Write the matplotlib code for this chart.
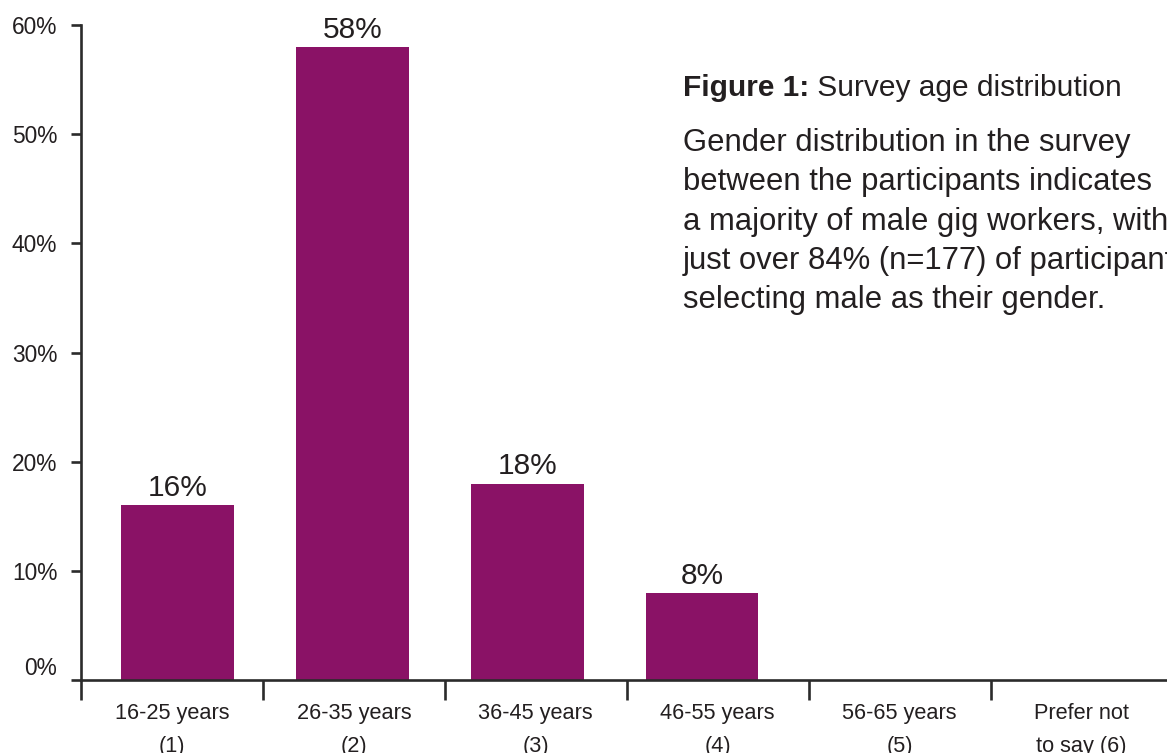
import numpy as np
import matplotlib.pyplot as plt

# age groups and share of respondents (%)
categories = ["16-25 years\n(1)", "26-35 years\n(2)", "36-45 years\n(3)",
              "46-55 years\n(4)", "56-65 years\n(5)", "Prefer not\nto say (6)"]
shares = [16, 58, 18, 8, 0, 0]
y_ticks = [0, 10, 20, 30, 40, 50, 60]

title_bold = "Figure 1:"
title_rest = " Survey age distribution"
body_lines = [
    "Gender distribution in the survey",
    "between the participants indicates",
    "a majority of male gig workers, with",
    "just over 84% (n=177) of participants",
    "selecting male as their gender.",
]

BAR_COLOR = "#8a1266"
TEXT_COLOR = "#231f20"
AXIS_COLOR = "#2b2b2b"
FONT = "Liberation Sans"

W, H = 1167, 753
plt.rcParams["font.family"] = [FONT, "DejaVu Sans"]

fig = plt.figure(figsize=(W / 100, H / 100), dpi=100)
# axes run slightly past the right edge of the figure
ax = fig.add_axes([81 / W, (H - 680) / H, 6 * 181.9 / W, (680 - 25) / H])

# bars sit on a slightly tighter pitch than the category slots
bar_offset, bar_pitch, bar_width = 0.53, 0.9615, 0.62
xpos = bar_offset + bar_pitch * np.arange(len(shares))
bars = ax.bar(xpos, shares, width=bar_width, color=BAR_COLOR, zorder=1)

for x, v in zip(xpos, shares):
    if v > 0:
        ax.annotate(f"{v:.0f}%", xy=(x, v), xytext=(0, 6.5), textcoords="offset points",
                    ha="center", va="baseline", fontsize=21.5, color=TEXT_COLOR)

ax.set_xlim(0, len(categories))
ax.set_ylim(0, 60)

for side in ("top", "right"):
    ax.spines[side].set_visible(False)
for side in ("left", "bottom"):
    ax.spines[side].set_color(AXIS_COLOR)
    ax.spines[side].set_linewidth(1.9)
    ax.spines[side].set_zorder(3)

ax.set_yticks(y_ticks)
ax.set_yticklabels([f"{t}%" for t in y_ticks])
ax.tick_params(axis="y", direction="out", length=7.2, width=1.9, color=AXIS_COLOR,
               labelsize=16.4, labelcolor=TEXT_COLOR, pad=9.9)
ax.get_yticklabels()[0].set_va("bottom")

# category separators as major ticks, names as minor tick labels
ax.set_xticks(np.arange(len(categories) + 1))
ax.set_xticklabels([])
ax.set_xticks(np.arange(len(categories)) + 0.5, minor=True)
ax.set_xticklabels(categories, minor=True, linespacing=1.75)
ax.tick_params(axis="x", which="major", direction="out", length=14.4, width=1.9,
               color=AXIS_COLOR)
ax.tick_params(axis="x", which="minor", length=0, labelsize=15.7,
               labelcolor=TEXT_COLOR, pad=16.5)

# caption block
t1 = fig.text(682.7 / W, 1 - 96 / H, title_bold, fontsize=21.5, fontweight="bold",
              color=TEXT_COLOR, va="baseline")
fig.canvas.draw()
bb = t1.get_window_extent()
fig.text(bb.x1 / W, 1 - 96 / H, title_rest, fontsize=21.5, color=TEXT_COLOR,
         va="baseline")

line_step = 39.3
for i, line in enumerate(body_lines):
    fig.text(682.7 / W, 1 - (151 + i * line_step) / H, line, fontsize=22.3,
             color=TEXT_COLOR, va="baseline")

fig.savefig("out.png", dpi=100)
